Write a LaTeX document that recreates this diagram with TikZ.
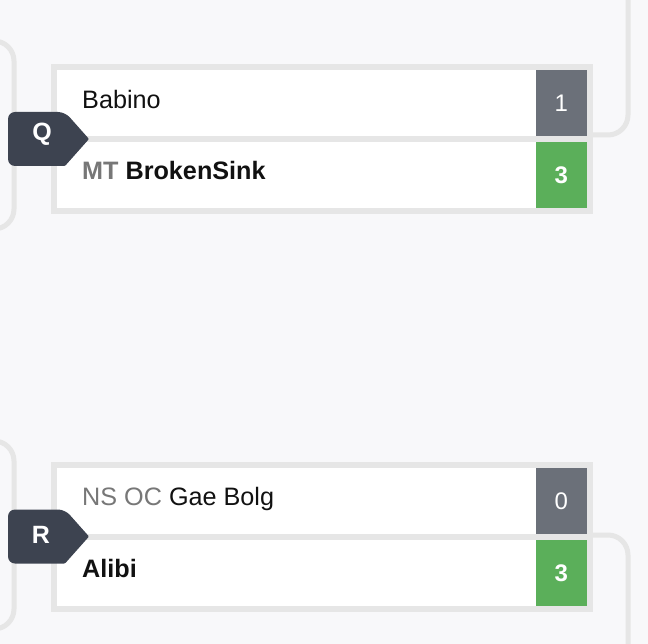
\documentclass[tikz,border=0pt]{standalone}
\usepackage{fontspec}
\setmainfont{Liberation Sans}
\definecolor{bg}{HTML}{F8F8FA}
\definecolor{bord}{HTML}{E6E6E6}
\definecolor{lose}{HTML}{6B7079}
\definecolor{win}{HTML}{5BAF5A}
\definecolor{badgec}{HTML}{3D4350}
\definecolor{tagc}{HTML}{777777}
\definecolor{ink}{HTML}{111111}
\tikzset{
  outerbox/.style={fill=bord, draw=none, inner sep=0pt, anchor=north west, minimum width=542.5pt, minimum height=150pt},
  rowbox/.style={fill=white, draw=none, inner sep=0pt, anchor=north west, minimum width=530pt, minimum height=66.5pt},
  scorebox/.style={draw=none, inner sep=0pt, anchor=north east, minimum width=51pt, minimum height=66.5pt, text=white, font=\fontsize{24}{24}\selectfont},
  teamname/.style={anchor=base west, inner sep=0pt, text=ink, font=\fontsize{25.2}{25.2}\selectfont},
  badgeletter/.style={inner sep=0pt, text=white, font=\bfseries\fontsize{25}{25}\selectfont},
  badgeshape/.style={fill=badgec, rounded corners=7pt},
  conn/.style={draw=bord, line width=5pt, rounded corners=20pt},
}
\begin{document}
\begin{tikzpicture}[x=1pt, y=-1pt]
\useasboundingbox (0,0) rectangle (648,644);
\fill[bg] (0,0) rectangle (648,644);

% connectors
\coordinate (qlTop) at (-10,41);
\coordinate (qlBot) at (-10,229);
\coordinate (qlMid) at (14,135);
\coordinate (qrTop) at (628,-10);
\coordinate (qrIn) at (593,135);
\coordinate (rlTop) at (-10,441);
\coordinate (rlBot) at (-10,629);
\coordinate (rlMid) at (14,535);
\coordinate (rrBot) at (628,660);
\coordinate (rrIn) at (593,535);
\draw[conn] (qlTop) -| (qlMid) |- (qlBot);
\draw[conn] (qrTop) |- (qrIn);
\draw[conn] (rlTop) -| (rlMid) |- (rlBot);
\draw[conn] (rrIn) -| (rrBot);

% match Q
\node[outerbox] (qbox) at (50.5,63.5) {};
\node[rowbox] (qa) at (56.5,69.5) {};
\node[rowbox] (qb) at (56.5,141.5) {};
\node[scorebox, fill=lose] (qas) at (qa.north east) {1};
\node[scorebox, fill=win] (qbs) at (qb.north east) {\bfseries 3};
\node[teamname] (qat) at (82,108.3) {Babino};
\node[teamname] (qbt) at (82,180) {\bfseries\textcolor{tagc}{MT} BrokenSink};
\fill[badgeshape] (8,112) -- (65,112) [rounded corners=1pt] -- (89,139) -- (65,166) [rounded corners=7pt] -- (8,166) -- cycle;
\node[badgeletter] (qbadge) at (42,134.5) {Q};

% match R
\node[outerbox] (rbox) at (50.5,461.5) {};
\node[rowbox] (ra) at (56.5,467.5) {};
\node[rowbox] (rb) at (56.5,539.5) {};
\node[scorebox, fill=lose] (ras) at (ra.north east) {0};
\node[scorebox, fill=win] (rbs) at (rb.north east) {\bfseries 3};
\node[teamname] (rat) at (82,505.5) {\textcolor{tagc}{NS OC} Gae Bolg};
\node[teamname] (rbt) at (82,577.5) {\bfseries Alibi};
\fill[badgeshape] (8,509.5) -- (65,509.5) [rounded corners=1pt] -- (89,536.5) -- (65,563.5) [rounded corners=7pt] -- (8,563.5) -- cycle;
\node[badgeletter] (rbadge) at (41,534.5) {R};
\end{tikzpicture}
\end{document}
